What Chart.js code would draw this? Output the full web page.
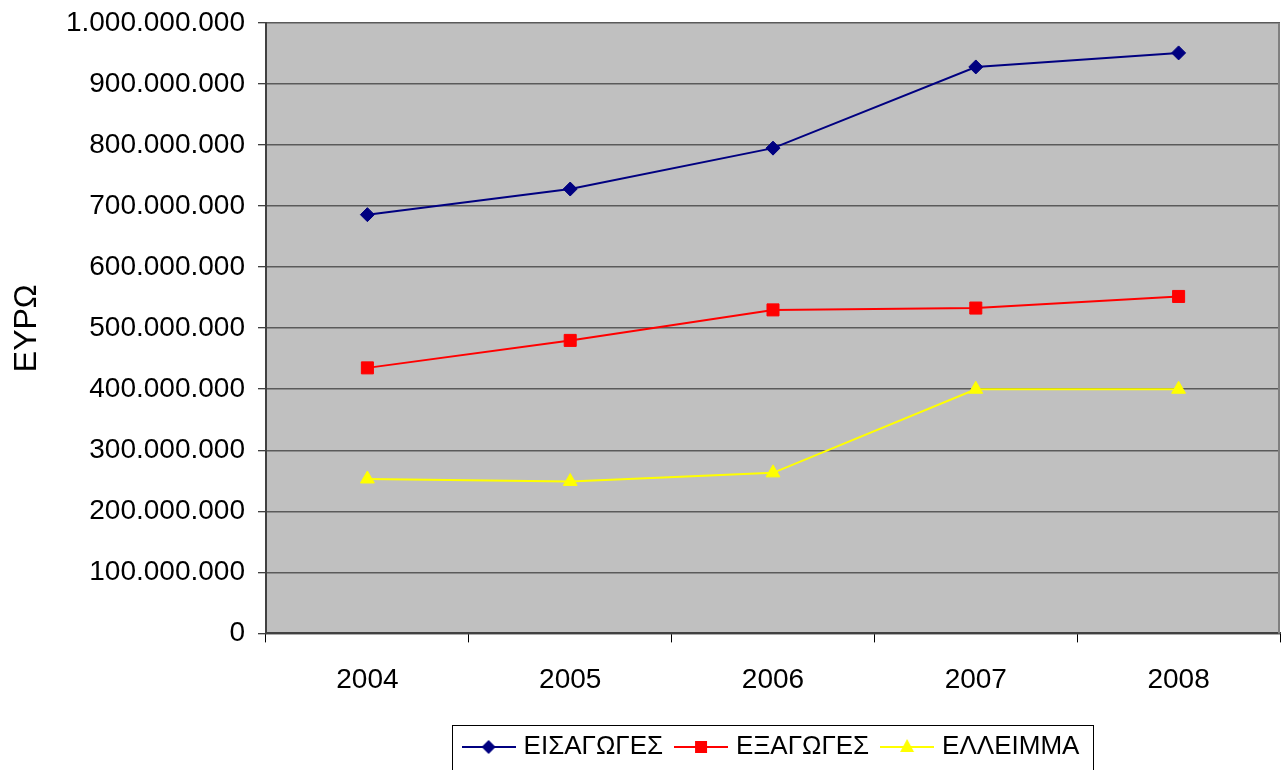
<!DOCTYPE html>
<html>
<head>
<meta charset="utf-8">
<script src="https://cdn.jsdelivr.net/npm/chart.js@4.4.1/dist/chart.umd.min.js"></script>
<style>
  html, body { margin: 0; padding: 0; background: #ffffff; }
  #wrap { width: 1285px; height: 770px; }
</style>
</head>
<body>
<div id="wrap"><canvas id="c" width="1285" height="770"></canvas></div>
<script>
// ---- data ----
const years = ['2004', '2005', '2006', '2007', '2008'];
const imports = [686000000, 728000000, 795000000, 928000000, 951000000];   // ΕΙΣΑΓΩΓΕΣ
const exports_ = [435000000, 480000000, 530000000, 533000000, 552000000];  // ΕΞΑΓΩΓΕΣ
const deficit = [253000000, 249000000, 263000000, 400000000, 400000000];   // ΕΛΛΕΙΜΜΑ
const seriesNames = ['ΕΙΣΑΓΩΓΕΣ', 'ΕΞΑΓΩΓΕΣ', 'ΕΛΛΕΙΜΜΑ'];
const yAxisTitle = 'ΕΥΡΩ';
const yMin = 0, yMax = 1000000000, yStep = 100000000;

const FONT = '"Liberation Sans", Arial, sans-serif';

function fmt(v) {
  return String(Math.round(v)).replace(/\B(?=(\d{3})+(?!\d))/g, '.');
}

// legend swatch: line with marker in the middle
function swatch(color, style) {
  const cv = document.createElement('canvas');
  cv.width = 54; cv.height = 18;
  const g = cv.getContext('2d');
  g.strokeStyle = color; g.fillStyle = color; g.lineWidth = 2;
  g.beginPath(); g.moveTo(0, 9); g.lineTo(54, 9); g.stroke();
  const cx = 27, cy = 9;
  g.beginPath();
  if (style === 'diamond') {
    g.moveTo(cx, cy - 7); g.lineTo(cx + 7, cy); g.lineTo(cx, cy + 7); g.lineTo(cx - 7, cy); g.closePath();
  } else if (style === 'square') {
    g.rect(cx - 6, cy - 6, 12, 12);
  } else {
    g.moveTo(cx, cy - 8); g.lineTo(cx + 7, cy + 5); g.lineTo(cx - 7, cy + 5); g.closePath();
  }
  g.fill();
  return cv;
}

const colors = ['#000080', '#FF0000', '#FFFF00'];
const swatches = [swatch(colors[0], 'diamond'), swatch(colors[1], 'square'), swatch(colors[2], 'triangle')];

const bgPlugin = {
  id: 'plotBg',
  afterLayout(chart) {
    // centre the legend under the plot area
    const lg = chart.legend, a = chart.chartArea;
    if (lg) {
      lg.left = a.left;
      lg.right = a.right;
      lg.width = a.right - a.left;
    }
  },
  beforeDraw(chart) {
    const a = chart.chartArea, ctx = chart.ctx;
    ctx.save();
    ctx.fillStyle = '#C0C0C0';
    ctx.fillRect(a.left, a.top, a.right - a.left, a.bottom - a.top);
    ctx.restore();
  },
  afterDraw(chart) {
    const a = chart.chartArea, ctx = chart.ctx;
    ctx.save();
    ctx.strokeStyle = '#808080';
    ctx.lineWidth = 2;
    ctx.beginPath();
    ctx.moveTo(a.right - 1, a.top); ctx.lineTo(a.right - 1, a.bottom);
    ctx.stroke();
    // legend border
    const hb = chart.legend.legendHitBoxes;
    if (hb && hb.length) {
      let l = Infinity, r = -Infinity, t = Infinity;
      hb.forEach(h => { l = Math.min(l, h.left); r = Math.max(r, h.left + h.width); t = Math.min(t, h.top); });
      ctx.strokeStyle = '#000000';
      ctx.lineWidth = 1;
      ctx.strokeRect(Math.round(l - 15) + 0.5, Math.round(t - 9) + 0.5, Math.round(r - l + 28), 60);
    }
    ctx.restore();
  }
};

const mk = (i, data, style, radius) => ({
  label: seriesNames[i],
  data: data,
  borderColor: colors[i],
  backgroundColor: colors[i],
  borderWidth: 2,
  pointStyle: style,
  pointRadius: radius,
  pointHoverRadius: radius,
  pointBorderWidth: 1,
  pointBorderColor: colors[i],
  pointBackgroundColor: colors[i],
  tension: 0,
  fill: false,
  clip: false
});

new Chart(document.getElementById('c'), {
  type: 'line',
  data: {
    labels: years,
    datasets: [
      mk(0, imports, 'rectRot', 7),
      mk(1, exports_, 'rect', 8.5),
      mk(2, deficit, 'triangle', 8)
    ]
  },
  plugins: [bgPlugin],
  options: {
    responsive: false,
    devicePixelRatio: 1,
    animation: false,
    layout: { autoPadding: false, padding: { left: 8, right: 5, top: 23, bottom: 0 } },
    plugins: {
      tooltip: { enabled: false },
      legend: {
        position: 'bottom',
        labels: {
          usePointStyle: true,
          pointStyleWidth: 44,
          padding: 16,
          color: '#000000',
          font: { family: FONT, size: 26 },
          generateLabels(chart) {
            return chart.data.datasets.map((ds, i) => ({
              text: ds.label,
              pointStyle: swatches[i],
              fillStyle: colors[i],
              strokeStyle: colors[i],
              lineWidth: 0,
              hidden: false,
              datasetIndex: i,
              fontColor: '#000000'
            }));
          }
        }
      }
    },
    scales: {
      x: {
        type: 'category',
        offset: true,
        grid: {
          offset: true,
          drawOnChartArea: false,
          drawTicks: true,
          tickLength: 9,
          tickColor: '#000000',
          tickWidth: 1
        },
        border: { display: true, color: '#404040', width: 2 },
        ticks: {
          color: '#000000',
          padding: 21,
          maxRotation: 0,
          font: { family: FONT, size: 28 }
        }
      },
      y: {
        min: yMin,
        max: yMax,
        afterFit(axis) { axis.width = 258; axis.paddingTop = 0; axis.paddingBottom = 0; },
        title: {
          display: true,
          text: yAxisTitle,
          color: '#000000',
          font: { family: FONT, size: 32 },
          padding: { top: 0, bottom: 0 }
        },
        grid: {
          color: '#5a5a5a',
          lineWidth: 1.5,
          tickLength: 8,
          tickColor: '#000000',
          tickWidth: 1
        },
        border: { display: true, color: '#404040', width: 2 },
        ticks: {
          stepSize: yStep,
          autoSkip: false,
          padding: 13,
          color: '#000000',
          font: { family: FONT, size: 28 },
          callback: (v) => fmt(v)
        }
      }
    }
  }
});
</script>
</body>
</html>
